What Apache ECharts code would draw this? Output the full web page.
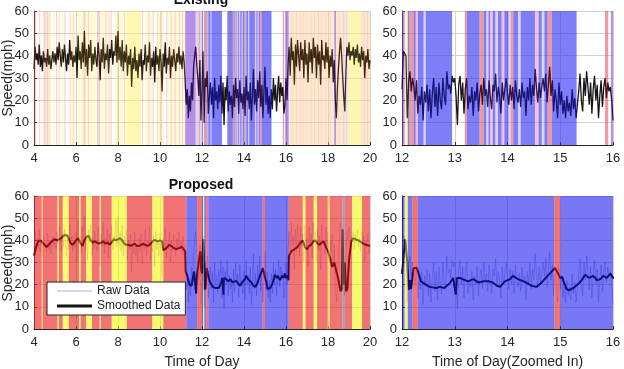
<!DOCTYPE html>
<html>
<head>
<meta charset="utf-8">
<script src="https://cdn.jsdelivr.net/npm/echarts@6/dist/echarts.min.js"></script>
<style>
html, body { margin: 0; padding: 0; background: #fff; }
#chart { width: 624px; height: 369px; }
</style>
</head>
<body>
<div id="chart"></div>
<script>
// raw speed over the whole day, one sample every 0.05 h from 4:00
var rawStart = 4, rawStep = 0.05;
var rawSpeed = [
  34,44,38,41,36,45,35,40,33,42,37,39,35,43,36,40,34,38,42,37,
  41,36,44,38,46,40,35,43,37,45,39,33,41,36,47,38,42,35,40,37,
  44,30,49,38,42,34,46,37,51,35,43,31,45,39,47,33,41,36,44,38,
  35,46,40,29,43,37,48,34,41,38,45,32,43,39,47,36,42,40,49,37,
  51,38,44,35,47,33,42,37,45,31,40,36,43,26,39,34,44,33,38,30,
  41,35,43,29,38,36,45,33,40,37,46,31,39,35,42,28,44,36,40,33,
  43,37,24,41,35,46,32,39,36,44,30,40,35,43,38,33,41,37,44,36,
  40,34,42,37,28,18,25,12,22,15,28,20,35,40,44,36,30,22,38,11,
  25,42,10,30,26,33,14,22,28,18,26,12,30,20,24,16,27,19,31,14,
  28,9,26,20,31,15,24,18,22,12,27,17,30,21,25,14,29,19,23,16,
  26,13,31,20,24,16,28,11,22,34,18,25,15,29,21,33,17,27,12,24,
  35,18,26,14,22,12,25,16,30,20,27,15,24,31,19,28,22,26,14,18,
  30,20,36,44,31,48,38,42,27,45,35,47,40,33,46,38,43,30,47,36,
  41,28,46,37,43,32,48,39,44,30,45,36,42,27,47,38,40,34,46,37,
  44,30,40,35,43,28,38,20,12,26,35,42,48,40,30,22,15,32,44,40,
  46,38,42,40,44,36,43,39,45,37,41,35,44,38,42,30,40,37,43,34,
  38
];

// raw speed in the zoomed window, one sample every 0.025 h from 12:00
var zoomStart = 12, zoomStep = 0.025;
var zoomSpeed = [
  25,42,41,40,12,28,33,24,30,26,20,29,14,22,18,26,11,24,19,27,15,25,12,23,30,17,26,13,28,20,16,30,22,18,33,25,27,23,31,28,
  30,22,9,27,31,20,28,14,25,30,16,22,19,26,13,24,20,28,15,23,27,18,30,22,25,17,29,21,16,27,24,32,19,26,22,14,28,20,25,30,
  23,18,27,20,26,16,29,22,19,25,17,28,21,24,13,26,20,30,18,27,22,34,25,19,28,21,26,30,24,32,19,27,35,22,29,15,25,20,12,28,
  18,24,14,20,12,22,15,19,13,25,16,21,12,18,24,32,20,15,30,22,33,26,18,28,14,25,31,20,27,12,22,29,17,26,30,21,28,24,26,20,
  11
];

// smoothed speed (proposed)
var smoothTime = [
  4.0,4.1,4.2,4.3,4.4,4.5,4.6,4.7,4.8,4.9,5.0,5.1,5.2,5.3,5.4,5.5,5.6,5.7,5.8,5.9,
  6.0,6.1,6.2,6.3,6.4,6.5,6.6,6.7,6.8,6.9,7.0,7.1,7.2,7.3,7.4,7.5,7.6,7.7,7.8,7.9,
  8.0,8.1,8.2,8.3,8.4,8.5,8.6,8.7,8.8,8.9,9.0,9.1,9.2,9.3,9.4,9.5,9.6,9.7,9.8,9.9,
  10.0,10.1,10.15,10.3,10.45,10.6,10.75,10.9,11.05,11.2,11.22,11.3,11.4,11.5,11.58,11.62,11.68,11.72,11.76,11.85,
  11.92,11.96,12.0,12.06,12.1,12.13,12.15,12.17,12.22,12.28,12.36,12.45,12.52,12.65,12.72,12.8,12.9,12.97,13.0,13.02,
  13.04,13.1,13.15,13.25,13.35,13.45,13.55,13.65,13.72,13.8,13.86,13.95,14.05,14.1,14.2,14.35,14.45,14.55,14.65,14.72,
  14.8,14.9,14.97,15.0,15.04,15.07,15.12,15.17,15.25,15.35,15.42,15.47,15.55,15.62,15.7,15.76,15.82,15.88,15.95,16.0,
  16.08,16.12,16.14,16.25,16.4,16.55,16.7,16.8,16.9,17.0,17.1,17.2,17.3,17.4,17.5,17.6,17.7,17.8,17.9,18.0,
  18.1,18.2,18.3,18.4,18.5,18.6,18.66,18.7,18.74,18.8,18.86,18.92,19.0,19.1,19.2,19.3,19.45,19.6,19.8,20.0
];
var smoothSpeed = [
  33,37,39.5,40,39,38,37,38,39,40,40.5,40,40.5,41,42,42.5,42,39.5,38,38.5,
  40,41,39,37.5,40,41.5,42,40,39,39.5,39,38.5,39,39.5,38.5,39,38,39,40.5,40,
  40.5,41,40,38.5,38,38,37.5,38,38.5,37.5,37.5,38,38.5,38,37.5,38,39,40,40,39.5,
  40,39.5,35.5,36.5,38,37,36,36.5,37,35,26,24,20,19.5,20,26,26,16,24,31,
  35,27,25,40.5,30,17.7,22,18,27.5,27.5,21.5,20,19,18.5,19,18.5,20.5,23,23,15.5,
  23,23,22.5,21.5,22.5,21,21.5,21.5,21,19.5,19,21.5,22.5,24,22.5,21,19.5,19,21,23,
  25,27.5,24.5,23,23.5,21,18,17.5,18.5,20.5,22.5,24.5,23,24,22,22.5,24,23,25,23,
  24,22,33,35,36,37,39,40,37,36,37.5,38,39.5,40,38.5,38,39,39.5,37,35,
  32,28,30,26,22,17,18,45,20,30,17,18,31,39,41,40.5,40,39,38,37.5
];

// traffic state intervals [from, to, state], existing method (gaps are unclassified)
var topBands = [
  [4.00,4.10,'r'],[4.25,4.30,'r'],[4.42,4.48,'o'],[4.48,4.53,'r'],[4.53,4.62,'o'],[4.62,4.67,'r'],[4.67,4.80,'o'],
  [4.90,5.00,'y'],[5.05,5.10,'r'],[5.18,5.22,'r'],[5.30,5.40,'y'],[5.45,5.50,'r'],
  [5.70,5.74,'r'],[5.74,5.85,'y'],[5.85,5.89,'r'],[5.89,6.00,'y'],
  [6.10,6.35,'y'],[6.35,6.45,'r'],[6.45,6.58,'y'],[6.58,6.62,'r'],[6.62,6.95,'y'],
  [7.00,7.15,'r'],[7.20,7.40,'y'],[7.40,7.45,'r'],[7.45,7.55,'y'],[7.55,7.59,'r'],[7.65,7.70,'r'],
  [7.80,7.97,'y'],[7.97,8.02,'r'],[8.02,8.30,'y'],[8.30,8.34,'r'],[8.34,8.44,'y'],[8.44,9.10,'Y'],
  [9.15,9.20,'r'],[9.30,9.45,'y'],[9.45,9.50,'r'],[9.50,9.60,'y'],[9.65,9.70,'r'],
  [9.80,9.88,'y'],[9.88,9.92,'r'],[9.92,10.05,'y'],[10.05,10.10,'r'],[10.10,10.20,'y'],
  [10.30,10.35,'r'],[10.35,10.50,'y'],[10.50,10.55,'r'],[10.55,10.70,'y'],[10.70,10.75,'r'],[10.75,10.90,'y'],
  [10.90,10.95,'r'],[10.95,11.05,'y'],[11.05,11.10,'r'],[11.10,11.20,'y'],
  [11.20,11.70,'P'],[11.70,11.75,'r'],[11.75,11.85,'l'],[11.85,11.90,'R'],[11.90,12.00,'l'],
  [12.00,12.05,'P'],[12.05,12.11,'Y'],[12.11,12.14,'B'],[12.14,12.22,'R'],[12.22,12.26,'B'],[12.26,12.30,'p'],
  [12.30,12.41,'B'],[12.41,12.45,'l'],[12.45,12.95,'B'],
  [13.19,13.23,'R'],[13.23,13.47,'B'],[13.47,13.55,'R'],[13.55,13.60,'B'],[13.60,13.64,'l'],[13.64,13.67,'B'],
  [13.67,13.72,'p'],[13.72,13.77,'B'],[13.77,13.82,'l'],[13.82,13.89,'B'],[13.89,13.94,'p'],[13.94,14.02,'B'],
  [14.02,14.06,'l'],[14.06,14.11,'R'],[14.11,14.20,'B'],[14.20,14.25,'l'],[14.25,14.52,'B'],[14.52,14.59,'p'],
  [14.59,14.65,'B'],[14.65,14.70,'l'],[14.70,14.76,'B'],[14.76,14.84,'R'],[14.84,15.31,'B'],
  [15.85,15.91,'R'],[15.96,16.13,'P'],
  [16.13,16.28,'o'],[16.28,16.32,'r'],[16.32,16.48,'o'],[16.48,16.52,'r'],[16.52,16.68,'o'],[16.68,16.72,'r'],
  [16.72,16.83,'o'],[16.83,16.87,'r'],[16.87,16.98,'o'],[16.98,17.02,'r'],[17.02,17.18,'o'],[17.18,17.22,'r'],
  [17.22,17.33,'o'],[17.33,17.37,'r'],[17.37,17.53,'o'],[17.53,17.57,'r'],[17.57,17.68,'o'],[17.68,17.72,'r'],
  [17.72,17.88,'o'],[17.88,17.92,'r'],[17.92,18.08,'o'],[18.08,18.12,'r'],[18.12,18.30,'o'],[18.30,18.38,'P'],
  [18.38,18.50,'o'],[18.50,18.55,'r'],[18.55,18.72,'o'],[18.72,18.78,'l'],[18.78,18.86,'o'],[18.86,18.90,'l'],
  [18.90,18.99,'o'],[18.99,19.55,'Y'],[19.55,19.70,'o'],[19.70,19.75,'r'],[19.75,19.85,'o'],[19.85,19.90,'r'],
  [19.90,20.00,'o']
];

// traffic state intervals, proposed method
var bottomBands = [
  [4.00,4.37,'R'],[4.37,4.41,'Y'],[4.41,5.12,'R'],[5.12,5.18,'Y'],[5.18,5.37,'R'],[5.37,5.66,'Y'],
  [5.66,6.15,'R'],[6.15,6.22,'Y'],[6.22,6.48,'R'],[6.48,6.76,'Y'],[6.76,7.13,'R'],[7.13,7.19,'Y'],
  [7.19,7.70,'R'],[7.70,8.42,'Y'],[8.42,9.63,'R'],[9.63,10.16,'Y'],[10.16,11.26,'R'],[11.26,11.77,'B'],
  [11.77,12.00,'R'],[12.00,12.05,'B'],[12.05,12.11,'Y'],[12.11,12.20,'B'],[12.20,12.30,'R'],[12.30,14.89,'B'],
  [14.89,15.00,'R'],[15.00,16.13,'B'],[16.13,16.80,'R'],[16.80,16.93,'Y'],[16.93,17.32,'R'],[17.32,17.48,'Y'],
  [17.48,17.99,'R'],[17.99,18.08,'Y'],[18.08,18.68,'R'],[18.68,18.80,'G'],[18.80,19.15,'R'],[19.15,19.62,'Y'],
  [19.62,20.00,'R']
];

var speedMin = 0, speedMax = 60, speedStep = 10;

var topFill = {
  R: 'rgba(230,70,70,0.55)', r: 'rgba(235,120,100,0.35)', y: 'rgba(255,240,120,0.32)',
  Y: 'rgba(255,240,100,0.5)', o: 'rgba(250,205,140,0.45)', B: 'rgba(40,40,245,0.6)',
  P: 'rgba(130,70,220,0.6)', l: 'rgba(170,160,245,0.45)', p: 'rgba(235,130,160,0.5)'
};
var topLine = {
  R: '#4a1010', r: '#4a1a12', y: '#3a3512', Y: '#3a3512', o: '#3d3010',
  B: '#15157a', P: '#2a1060', l: '#301a55', p: '#401530'
};
var botFill = { R: 'rgba(235,40,40,0.65)', Y: 'rgba(245,245,0,0.57)', B: 'rgba(30,30,240,0.6)', G: 'rgba(100,90,150,0.6)' };
var botRaw = { R: 'rgba(170,30,90,0.2)', Y: 'rgba(190,150,30,0.25)', B: 'rgba(60,60,220,0.4)', G: 'rgba(80,70,110,0.3)' };
var botLine = { R: '#8a1010', Y: '#76761a', B: '#10107a', G: '#505050' };

function sampled(start, step, values) {
  return values.map(function (v, i) { return [+(start + i * step).toFixed(3), v]; });
}
var rawData = sampled(rawStart, rawStep, rawSpeed);
var zoomData = sampled(zoomStart, zoomStep, zoomSpeed);
var smoothData = smoothTime.map(function (t, i) { return [t, smoothSpeed[i]]; });

function bandSeries(bands, fill, idx) {
  return {
    type: 'custom',
    xAxisIndex: idx,
    yAxisIndex: idx,
    silent: true,
    z: 1,
    data: bands.map(function (b) {
      return { value: [b[0], b[1]], itemStyle: { color: fill[b[2]] } };
    }),
    renderItem: function (params, api) {
      var a = api.coord([api.value(0), speedMax]);
      var b = api.coord([api.value(1), speedMin]);
      var cs = params.coordSys;
      var r = echarts.graphic.clipRectByRect(
        { x: a[0], y: a[1], width: b[0] - a[0], height: b[1] - a[1] },
        { x: cs.x, y: cs.y, width: cs.width, height: cs.height }
      );
      if (!r) return;
      return { type: 'rect', shape: r, style: { fill: api.visual('color') } };
    }
  };
}

function pieces(bands, colors) {
  return bands.map(function (b) { return { gte: b[0], lt: b[1], color: colors[b[2]] }; });
}

var ink = '#262626';
var font = 'Liberation Sans';

function xAxis(idx, min, max, step, name) {
  return {
    type: 'value', gridIndex: idx, min: min, max: max, interval: step,
    name: name, nameLocation: 'middle', nameGap: 26,
    nameTextStyle: { fontSize: 14, color: ink, fontFamily: font },
    axisLine: { lineStyle: { color: ink } },
    axisTick: { inside: true, length: 3, lineStyle: { color: ink } },
    axisLabel: { color: ink, fontSize: 13, fontFamily: font, margin: 7 },
    splitLine: { show: true, lineStyle: { color: '#d2d2d2' } }
  };
}
function yAxis(idx) {
  return {
    type: 'value', gridIndex: idx, min: speedMin, max: speedMax, interval: speedStep,
    axisLine: { show: true, lineStyle: { color: ink } },
    axisTick: { show: true, inside: true, length: 3, lineStyle: { color: ink } },
    axisLabel: { color: ink, fontSize: 13, fontFamily: font, margin: 5 },
    splitLine: { show: true, lineStyle: { color: '#d2d2d2' } }
  };
}

function line(idx, data, width) {
  return {
    type: 'line', xAxisIndex: idx, yAxisIndex: idx, data: data,
    symbol: 'none', silent: true, z: 3,
    lineStyle: { width: width }
  };
}

function grid(left, top, width, height) {
  return { left: left, top: top, width: width, height: height, outerBoundsMode: 'none', containLabel: false };
}

function label(text, x, y, bold, rotation) {
  return {
    type: 'text', x: x, y: y, rotation: rotation || 0,
    style: {
      text: text, font: (bold ? 'bold ' : '') + '14px "Liberation Sans"', fill: bold ? '#111' : ink,
      align: 'center', verticalAlign: 'middle', textAlign: 'center', textVerticalAlign: 'middle'
    }
  };
}

var chart = echarts.init(document.getElementById('chart'));
chart.setOption({
  animation: false,
  backgroundColor: '#fff',
  graphic: [
    label('Existing', 201, 0, true),
    label('Proposed', 201, 185, true),
    label('Speed(mph)', 8, 78, false, Math.PI / 2),
    label('Speed(mph)', 8, 263, false, Math.PI / 2)
  ],
  grid: [
    grid(34, 11, 336, 134),
    grid(402, 11, 211, 134),
    grid(34, 196, 336, 133),
    grid(402, 196, 211, 133)
  ],
  xAxis: [
    xAxis(0, 4, 20, 2, ''),
    xAxis(1, 12, 16, 1, ''),
    xAxis(2, 4, 20, 2, 'Time of Day'),
    xAxis(3, 12, 16, 1, 'Time of Day(Zoomed In)')
  ],
  yAxis: [yAxis(0), yAxis(1), yAxis(2), yAxis(3)],
  legend: {
    left: 47, top: 282, orient: 'vertical',
    data: [
      { name: 'Raw Data', icon: 'path://M0,0h36v1h-36z' },
      { name: 'Smoothed Data', icon: 'path://M0,0h36v3h-36z' }
    ],
    selectedMode: false,
    backgroundColor: '#fff', borderColor: '#222', borderWidth: 1,
    padding: [3, 5, 3, 10], itemGap: 3, itemWidth: 35, itemHeight: 12,
    textStyle: { fontSize: 12, color: '#222', fontFamily: font }
  },
  visualMap: [
    { type: 'piecewise', show: false, dimension: 0, seriesIndex: [4, 5], pieces: pieces(topBands, topLine), outOfRange: { color: '#161616' } },
    { type: 'piecewise', show: false, dimension: 0, seriesIndex: [6, 7], pieces: pieces(bottomBands, botRaw), outOfRange: { color: 'rgba(60,60,220,0.4)' } },
    { type: 'piecewise', show: false, dimension: 0, seriesIndex: [8, 9], pieces: pieces(bottomBands, botLine), outOfRange: { color: '#10107a' } }
  ],
  series: [
    bandSeries(topBands, topFill, 0),
    bandSeries(topBands, topFill, 1),
    bandSeries(bottomBands, botFill, 2),
    bandSeries(bottomBands, botFill, 3),
    line(0, rawData, 1.3),
    line(1, zoomData, 1.3),
    line(2, rawData, 1),
    line(3, zoomData, 1),
    line(2, smoothData, 2),
    line(3, smoothData, 2),
    { name: 'Raw Data', type: 'line', xAxisIndex: 2, yAxisIndex: 2, data: [], symbol: 'none',
      itemStyle: { color: '#aab0e6' }, lineStyle: { color: '#aab0e6', width: 1 } },
    { name: 'Smoothed Data', type: 'line', xAxisIndex: 2, yAxisIndex: 2, data: [], symbol: 'none',
      itemStyle: { color: '#151515' }, lineStyle: { color: '#151515', width: 3 } }
  ]
});
</script>
</body>
</html>
